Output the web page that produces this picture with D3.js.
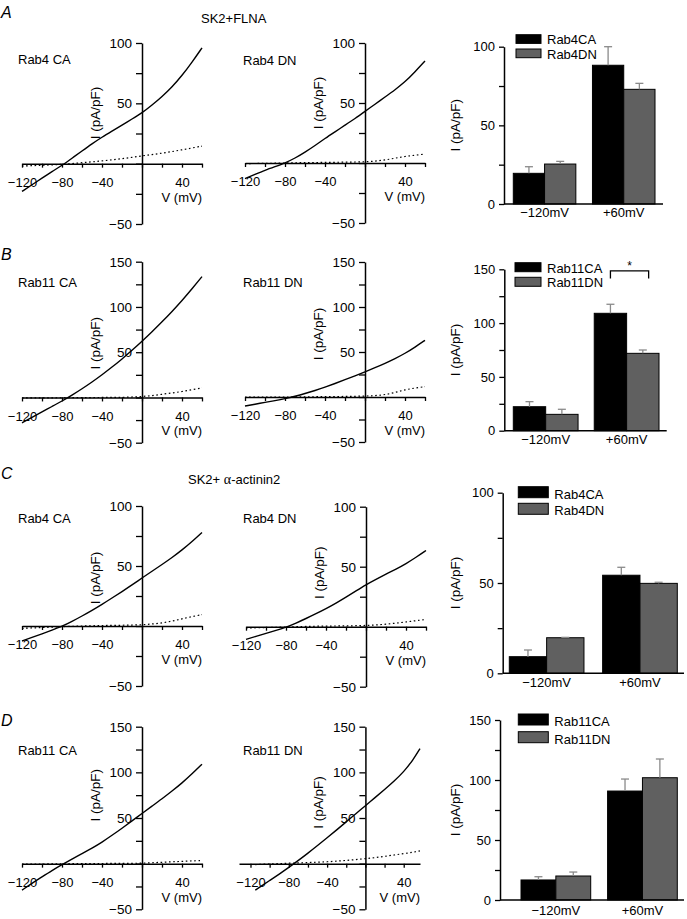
<!DOCTYPE html>
<html><head><meta charset="utf-8">
<script src="https://cdn.jsdelivr.net/npm/d3@7"></script>
<style>
body{margin:0;background:#fff}
text{font-family:"Liberation Sans",Arial,Helvetica,sans-serif;fill:#000}
</style>
</head><body><script>
// ---------------- DATA ----------------
const voltages = [-120,-110,-100,-90,-80,-70,-60,-50,-40,-30,-20,-10,0,10,20,30,40,50,60];
const voltagesDDN = [-115,-110,-100,-90,-80,-70,-60,-50,-40,-30,-20,-10,0,10,20,30,40,50,57];

// SK2+FLNA, Rab4
const ivA_CA      = [-23,-17.5,-12,-6.5,-1.5,4.5,10.5,16.5,22,27,32,37,42,48.5,55.5,63.5,73,84,96];
const ivA_CA_ctrl = [-2,-1.7,-1.3,-1,-0.5,0,0.8,1.5,2.3,3.2,4.2,5.2,6.5,7.5,8.7,10,11.5,13,14.5];
const ivA_DN      = [-13,-9.5,-6,-3,0,4,9,14.5,20.5,26,31.5,37,43,49,55,61,67.5,76,85];
const ivA_DN_ctrl = [-0.5,-0.4,-0.3,-0.2,0,0.2,0.3,0.4,0.5,0.6,0.7,0.8,1,1.5,2.5,4,5.5,6.5,7.5];
// SK2+FLNA, Rab11
const ivB_CA      = [-28,-22,-16,-10,-4,2.5,9.5,17,25,33.5,42.5,52,62,72.5,83.5,95,107,120,133.5];
const ivB_CA_ctrl = [-0.5,-0.5,-0.4,-0.4,-0.3,-0.3,-0.2,-0.1,0,0,0,0.5,1,2,3.5,5,6.5,8.5,10.5];
const ivB_DN      = [-10,-8,-6,-4,-1.8,0.8,3.8,7.2,11,15,19.2,23.5,28,32.6,37.4,42.6,48.4,55.4,63];
const ivB_DN_ctrl = [0,0,0,0,0,0,0.2,0.3,0.4,0.5,0.6,0.8,1,1.5,2.5,5,8,10,11.5];
// SK2+alpha-actinin2, Rab4
const ivC_CA      = [-12.5,-9.5,-6.5,-3.5,-0.3,3.8,8.3,13,18,23.3,28.7,34.2,40,45.6,51.2,57,63.3,70.3,78];
const ivC_CA_ctrl = [-2,-1.6,-1.3,-0.9,-0.5,-0.3,0,0.2,0.4,0.5,0.6,0.8,1,1.7,2.5,4,6,7.8,9.5];
const ivC_DN      = [-10.5,-8,-5.5,-3,-0.5,3,6.8,10.8,15,19.6,24.6,29.8,35,39.5,43.8,48,52.5,57.8,63.5];
const ivC_DN_ctrl = [-1,-0.9,-0.7,-0.5,-0.3,0,0.2,0.4,0.5,0.6,0.7,0.8,1,1.5,2,3,4,5,6];
// SK2+alpha-actinin2, Rab11
const ivD_CA      = [-29,-21.5,-14.5,-7.5,-1,5,11,17,23.5,31,38.8,46.8,55,63,71,79.5,88.3,98.3,109];
const ivD_CA_ctrl = [-0.5,-0.5,-0.4,-0.3,-0.2,0,0,0.1,0.2,0.2,0.3,0.4,0.5,1,1.5,2,2.5,3,3.5];
const ivD_DN      = [-29,-25.5,-18.5,-11.5,-4.2,3.5,11.5,19.8,28.3,37,45.8,54.6,63.5,72.3,81.2,90.4,100.5,114,126];
const ivD_DN_ctrl = [-1,-0.8,-0.3,0,0.5,0.8,1.2,1.6,2,2.8,3.5,4.5,5.5,6.5,8,9.5,11,12.5,14];

// tick values / labels
const vTicks = [-120,-100,-80,-60,-40,-20,0,20,40,60];
const vLabels = [-120,-80,-40,40];
const iTicks100 = [-50,-25,0,25,50,75,100];
const iLabels100 = [100,50,-50];
const iTicks150 = [-50,-25,0,25,50,75,100,125,150];
const iLabels150 = [150,100,50,-50];
const barTicks100 = [0,25,50,75,100];
const barLabels100 = [0,50,100];
const barTicks150 = [0,25,50,75,100,125,150];
const barLabels150 = [0,50,100,150];

// bar charts: categories, means and SEM
const barGroups = ["\u2212120mV","+60mV"];
const barA_CA = [19.5,88.2], barA_CA_sem = [4.2,11.8];
const barA_DN = [25.4,72.9], barA_DN_sem = [1.7,3.8];
const barB_CA = [22.3,109.1], barB_CA_sem = [4.7,8.4];
const barB_DN = [15.2,71.9], barB_DN_sem = [4.7,3.1];
const barC_CA = [9.2,54.3], barC_CA_sem = [3.7,4.4];
const barC_DN = [19.7,49.8], barC_DN_sem = [0.2,0.6];
const barD_CA = [16.7,90.8], barD_CA_sem = [2.7,10];
const barD_DN = [20,101.9], barD_DN_sem = [3.3,15.6];

// ---------------- DRAWING ----------------
const W = 687, H = 919;
const svg = d3.select("body").append("svg").attr("width", W).attr("height", H);
const fmt = d3.format("");
const FONT = "'Liberation Sans', Arial, Helvetica, sans-serif";
const GRAY = "#606060";

function styleAxis(sel, size){
  sel.attr("font-family", FONT).attr("font-size", size);
  sel.selectAll("path.domain").attr("stroke", "#000").attr("stroke-width", 1.5);
  sel.selectAll(".tick line").attr("stroke", "#000").attr("stroke-width", 1.3);
  sel.selectAll(".tick text").attr("fill", "#000");
}

function drawIV(p){
  const x = d3.scaleLinear().domain(p.xd).range(p.xr);
  const y = d3.scaleLinear().domain(p.yd).range(p.yr);
  const g = svg.append("g");

  const xa = d3.axisBottom(x)
    .tickValues(vTicks.filter(v => v >= p.xd[0] && v <= p.xd[1]))
    .tickSize(4).tickSizeOuter(0).tickPadding(10)
    .tickFormat(d => vLabels.includes(d) ? fmt(d) : "");
  g.append("g").attr("transform", `translate(0,${y(0)})`).call(xa).call(s => styleAxis(s, 13));

  const ya = d3.axisLeft(y)
    .tickValues(p.yt).tickSize(6).tickSizeOuter(0).tickPadding(4)
    .tickFormat(d => p.yl.includes(d) ? fmt(d) : "");
  g.append("g").attr("transform", `translate(${x(0)},0)`).call(ya).call(s => styleAxis(s, 13.5));

  const pts = (I) => p.v.map((v, i) => [v, I[i]]);
  const line = d3.line().x(d => x(d[0])).y(d => y(d[1])).curve(d3.curveBasis);

  g.append("path").attr("d", line(pts(p.ctrl)))
    .attr("fill", "none").attr("stroke", "#000").attr("stroke-width", 1.2)
    .attr("stroke-dasharray", "1.6,2.6");
  g.append("path").attr("d", line(pts(p.I)))
    .attr("fill", "none").attr("stroke", "#000").attr("stroke-width", 1.4);

  g.append("text").attr("x", p.nameX).attr("y", p.nameY)
    .attr("font-size", 13).text(p.name);

  g.append("text").attr("x", p.xr[1]).attr("y", y(0) + 38)
    .attr("text-anchor", "end").attr("font-size", 13).text("V (mV)");

  const lx = x(0) - 47, ly = y(p.labI);
  g.append("text").attr("transform", `translate(${lx},${ly}) rotate(-90)`)
    .attr("text-anchor", "middle").attr("dy", "0.35em").attr("font-size", 13.5).text("I (pA/pF)");
}

function drawBars(p){
  const y = d3.scaleLinear().domain(p.yd).range(p.yr);
  const xg = d3.scaleBand().domain(barGroups).range(p.br).paddingInner(p.pi);
  const xs = d3.scaleBand().domain(["CA","DN"]).range([0, xg.bandwidth()]);
  const g = svg.append("g");

  const ya = d3.axisLeft(y).tickValues(p.yt).tickSize(5).tickSizeOuter(0).tickPadding(4)
    .tickFormat(d => p.yl.includes(d) ? fmt(d) : "");
  g.append("g").attr("transform", `translate(${p.ax},0)`).call(ya).call(s => styleAxis(s, 13));

  const series = [
    {key:"CA", vals:p.ca, sem:p.caSem, fill:"#000"},
    {key:"DN", vals:p.dn, sem:p.dnSem, fill:GRAY}
  ];
  series.forEach(s => {
    barGroups.forEach((grp, i) => {
      const bx = xg(grp) + xs(s.key);
      g.append("rect").attr("x", bx).attr("y", y(s.vals[i]))
        .attr("width", xs.bandwidth()).attr("height", y(0) - y(s.vals[i]))
        .attr("fill", s.fill).attr("stroke", "#000").attr("stroke-width", 1);
    });
  });
  series.forEach(s => {
    barGroups.forEach((grp, i) => {
      const cx = xg(grp) + xs(s.key) + xs.bandwidth() / 2;
      const top = y(s.vals[i] + s.sem[i]);
      g.append("line").attr("x1", cx).attr("x2", cx).attr("y1", y(s.vals[i])).attr("y2", top)
        .attr("stroke", "#8a8a8a").attr("stroke-width", 1.3);
      g.append("line").attr("x1", cx - 4).attr("x2", cx + 4).attr("y1", top).attr("y2", top)
        .attr("stroke", "#8a8a8a").attr("stroke-width", 1.3);
    });
  });

  g.append("line").attr("x1", p.ax).attr("x2", p.axEnd).attr("y1", y(0)).attr("y2", y(0))
    .attr("stroke", "#000").attr("stroke-width", 1.5);

  barGroups.forEach(grp => {
    g.append("text").attr("x", xg(grp) + xg.bandwidth() / 2).attr("y", y(0) + p.labDy)
      .attr("text-anchor", "middle").attr("font-size", 13).text(grp);
  });

  // legend
  const L = p.leg;
  [[p.names[0], "#000", 0], [p.names[1], GRAY, 1]].forEach(([nm, col, k]) => {
    const ry = L.y + k * L.dy;
    g.append("rect").attr("x", L.x).attr("y", ry).attr("width", L.w).attr("height", L.h)
      .attr("fill", col).attr("stroke", "#000").attr("stroke-width", 1);
    g.append("text").attr("x", L.x + L.w + 6).attr("y", ry + L.h + 1)
      .attr("font-size", 13).text(nm);
  });

  g.append("text")
    .attr("transform", `translate(455,${(p.yr[0] + p.yr[1]) / 2}) rotate(-90)`)
    .attr("text-anchor", "middle").attr("dy", "0.35em").attr("font-size", 13.5).text("I (pA/pF)");

  if (p.sig){
    const x1 = xg(barGroups[1]) + xs("CA") + xs.bandwidth() / 2;
    const x2 = xg(barGroups[1]) + xs("DN") + xs.bandwidth() * 0.68;
    const yt = y(p.sig[0]), yb = y(p.sig[1]);
    g.append("path").attr("d", `M${x1},${yb}V${yt}H${x2}V${yb}`)
      .attr("fill", "none").attr("stroke", "#000").attr("stroke-width", 1.3);
    g.append("text").attr("x", (x1 + x2) / 2).attr("y", yt - 1).attr("text-anchor", "middle")
      .attr("font-size", 12).text("*");
  }
}

// panel letters & titles
[["A", 18], ["B", 260], ["C", 479], ["D", 726]].forEach(([t, yy]) => {
  svg.append("text").attr("x", 1).attr("y", yy).attr("font-size", 16)
    .attr("font-style", "italic").text(t);
});
svg.append("text").attr("x", 201).attr("y", 23).attr("font-size", 13).text("SK2+FLNA");
const t2 = svg.append("text").attr("x", 188).attr("y", 483.5).attr("font-size", 13);
t2.append("tspan").text("SK2+ ");
t2.append("tspan").attr("font-family", "'Liberation Serif','Times New Roman',serif").attr("font-size", 14).text("\u03b1");
t2.append("tspan").text("-actinin2");

// IV panels
const std = [-120, 60];
drawIV({name:"Rab4 CA", nameX:18, nameY:64, v:voltages, I:ivA_CA, ctrl:ivA_CA_ctrl,
  xd:std, xr:[22,202], yd:[-50,100], yr:[224,43], yt:iTicks100, yl:iLabels100, labI:42});
drawIV({name:"Rab4 DN", nameX:243, nameY:65, v:voltages, I:ivA_DN, ctrl:ivA_DN_ctrl,
  xd:std, xr:[245,425], yd:[-50,100], yr:[223,43], yt:iTicks100, yl:iLabels100, labI:50});
drawIV({name:"Rab11 CA", nameX:18, nameY:287, v:voltages, I:ivB_CA, ctrl:ivB_CA_ctrl,
  xd:std, xr:[22,202], yd:[-50,150], yr:[442.7,261.7], yt:iTicks150, yl:iLabels150, labI:60});
drawIV({name:"Rab11 DN", nameX:243, nameY:287, v:voltages, I:ivB_DN, ctrl:ivB_DN_ctrl,
  xd:std, xr:[245,425], yd:[-50,150], yr:[442,262], yt:iTicks150, yl:iLabels150, labI:70});
drawIV({name:"Rab4 CA", nameX:18, nameY:523, v:voltages, I:ivC_CA, ctrl:ivC_CA_ctrl,
  xd:std, xr:[22,202], yd:[-50,100], yr:[686,506], yt:iTicks100, yl:iLabels100, labI:40});
drawIV({name:"Rab4 DN", nameX:243, nameY:523, v:voltages, I:ivC_DN, ctrl:ivC_DN_ctrl,
  xd:std, xr:[246,426], yd:[-50,100], yr:[686.7,506.7], yt:iTicks100, yl:iLabels100, labI:45});
drawIV({name:"Rab11 CA", nameX:18, nameY:755, v:voltages, I:ivD_CA, ctrl:ivD_CA_ctrl,
  xd:std, xr:[22,202], yd:[-50,150], yr:[909.3,726.7], yt:iTicks150, yl:iLabels150, labI:75});
drawIV({name:"Rab11 DN", nameX:243, nameY:755, v:voltagesDDN, I:ivD_DN, ctrl:ivD_DN_ctrl,
  xd:[-132,57], xr:[239,420], yd:[-50,150], yr:[909.3,726.7], yt:iTicks150, yl:iLabels150, labI:67});

// bar panels
drawBars({ca:barA_CA, caSem:barA_CA_sem, dn:barA_DN, dnSem:barA_DN_sem, names:["Rab4CA","Rab4DN"],
  yd:[0,100], yr:[204,46.7], yt:barTicks100, yl:barLabels100, ax:504, axEnd:663, br:[513.3,655], pi:0.21, labDy:13,
  leg:{x:516, y:34.7, w:25, h:8.7, dy:14.3}});
drawBars({ca:barB_CA, caSem:barB_CA_sem, dn:barB_DN, dnSem:barB_DN_sem, names:["Rab11CA","Rab11DN"],
  yd:[0,150], yr:[430.7,269.3], yt:barTicks150, yl:barLabels150, ax:504.3, axEnd:666.7, br:[513.3,659], pi:0.2, labDy:13.5,
  leg:{x:515, y:262.7, w:26, h:9, dy:14.6}, sig:[148.5,141.5]});
drawBars({ca:barC_CA, caSem:barC_CA_sem, dn:barC_DN, dnSem:barC_DN_sem, names:["Rab4CA","Rab4DN"],
  yd:[0,100], yr:[673.3,492.7], yt:barTicks100, yl:barLabels100, ax:502.7, axEnd:684, br:[509.3,677.3], pi:0.2, labDy:13.5,
  leg:{x:518.3, y:486.7, w:30, h:11, dy:16.6}});
drawBars({ca:barD_CA, caSem:barD_CA_sem, dn:barD_DN, dnSem:barD_DN_sem, names:["Rab11CA","Rab11DN"],
  yd:[0,150], yr:[900,720], yt:barTicks150, yl:barLabels150, ax:500, axEnd:684, br:[521,677.3], pi:0.195, labDy:15,
  leg:{x:518.3, y:714, w:30, h:11, dy:17.7}});
</script></body></html>
